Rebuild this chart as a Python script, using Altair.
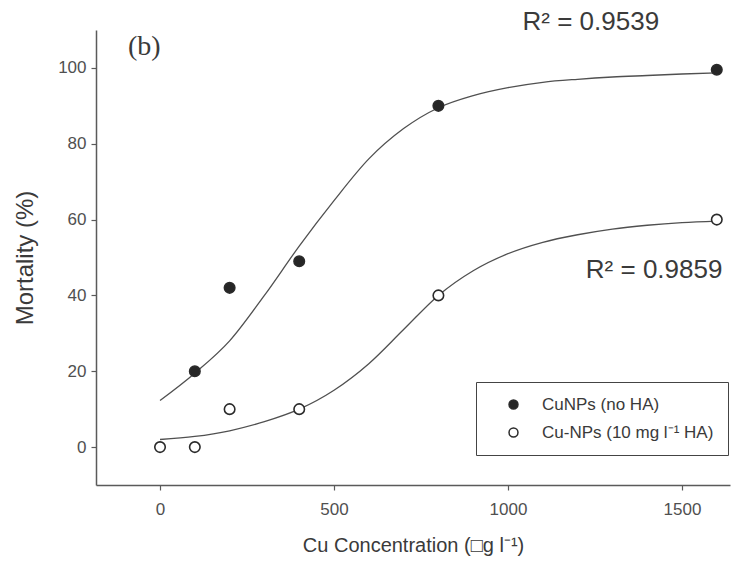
import altair as alt
import pandas as pd

# Observed mortality at each Cu concentration
conc = [0, 100, 200, 400, 800, 1600]
mort_no_ha = [None, 20, 42, 49, 90, 99.5]
mort_ha = [0, 0, 10, 10, 40, 60]

# Fitted sigmoid curves, sampled every 100 units
curve_x = [0, 100, 200, 300, 400, 500, 600, 700, 800,
           900, 1000, 1100, 1200, 1300, 1400, 1500, 1600]
curve_no_ha = [12.3, 19.5, 28, 40, 53, 65, 76, 84, 89.5,
               92.7, 94.8, 96.2, 97, 97.6, 98, 98.4, 98.7]
curve_ha = [2, 2.8, 4.3, 6.7, 10, 15, 22, 31, 40,
            46.5, 51, 54, 56, 57.5, 58.5, 59.2, 59.6]

series = ["CuNPs (no HA)", "Cu-NPs (10 mg l\u207b\u00b9 HA)"]
r2_labels = ["R\u00b2 = 0.9539", "R\u00b2 = 0.9859"]

FONT = "Liberation Sans"
INK = "#3a3a3a"
AXIS = "#5a5a5a"

pts = []
for c, a, b in zip(conc, mort_no_ha, mort_ha):
    if a is not None:
        pts.append({"conc": c, "mort": a, "series": series[0]})
    pts.append({"conc": c, "mort": b, "series": series[1]})
pts = pd.DataFrame(pts)

curves = pd.DataFrame(
    [{"conc": x, "mort": y, "series": series[0]} for x, y in zip(curve_x, curve_no_ha)]
    + [{"conc": x, "mort": y, "series": series[1]} for x, y in zip(curve_x, curve_ha)]
)

xscale = alt.Scale(domain=[-184, 1638], nice=False, zero=False)
yscale = alt.Scale(domain=[-10, 110], nice=False, zero=False)

x_enc = alt.X("conc:Q", scale=xscale,
              title="Cu Concentration (\u25a1g l\u207b\u00b9)",
              axis=alt.Axis(values=[0, 500, 1000, 1500], format="d"))
y_enc = alt.Y("mort:Q", scale=yscale, title="Mortality (%)",
              axis=alt.Axis(values=[0, 20, 40, 60, 80, 100], format="d"))

lines = alt.Chart(curves).mark_line(
    color="#505050", strokeWidth=1.3, interpolate="monotone"
).encode(x=x_enc, y=y_enc, detail="series:N")

points = alt.Chart(pts).mark_point(
    filled=True, size=110, stroke="#2a2a2a", strokeWidth=1.6, opacity=1
).encode(
    x=x_enc, y=y_enc,
    fill=alt.Fill("series:N",
                  scale=alt.Scale(domain=series, range=["#262626", "white"]),
                  legend=alt.Legend(title=None)),
)

notes = pd.DataFrame({
    "conc": [1238, 1420],
    "mort": [112, 46.8],
    "label": r2_labels,
})
r2 = alt.Chart(notes).mark_text(
    font=FONT, fontSize=26, color=INK, align="center", baseline="middle"
).encode(x=alt.X("conc:Q", scale=xscale), y=alt.Y("mort:Q", scale=yscale),
         text="label:N")

panel = alt.Chart(pd.DataFrame({"conc": [-45], "mort": [105.5], "label": ["(b)"]})).mark_text(
    font="Liberation Serif", fontSize=28, color=INK, align="center", baseline="middle"
).encode(x=alt.X("conc:Q", scale=xscale), y=alt.Y("mort:Q", scale=yscale),
         text="label:N")

chart = alt.layer(lines, points, r2, panel).properties(
    width=634, height=455,
    autosize=alt.AutoSizeParams(type="none"),
    padding={"left": 96, "top": 30, "right": 4, "bottom": 86},
    background="white",
).configure_view(
    stroke=None
).configure_axis(
    grid=False,
    domainColor=AXIS, domainWidth=1.5,
    tickColor=AXIS, tickWidth=1.2, tickSize=5,
    labelFont=FONT, labelFontSize=17, labelColor="#505050",
    titleFont=FONT, titleColor=INK, titleFontWeight="normal",
).configure_axisX(
    labelPadding=11, titlePadding=18, titleFontSize=20,
).configure_axisY(
    labelPadding=5, titlePadding=20, titleFontSize=24,
).configure_legend(
    orient="none", legendX=380, legendY=352,
    strokeColor="#444", fillColor="white", padding=14,
    symbolType="circle", symbolSize=80,
    symbolStrokeColor="#2a2a2a", symbolStrokeWidth=1.5,
    symbolOffset=15, labelOffset=20, rowPadding=10,
    labelFont=FONT, labelFontSize=17, labelColor=INK, labelLimit=300,
)

chart.save("out.html", embed_options={"renderer": "svg", "actions": False})
